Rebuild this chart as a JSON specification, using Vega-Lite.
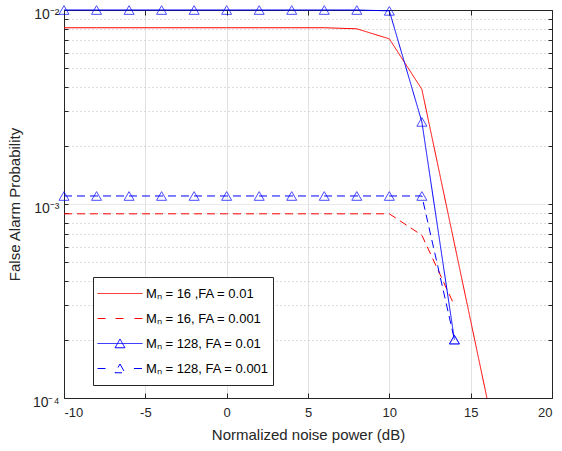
{
  "$schema": "https://vega.github.io/schema/vega-lite/v6.json",
  "width": 488,
  "height": 388,
  "autosize": "none",
  "padding": {"left": 64, "top": 10, "right": 10, "bottom": 53},
  "background": "white",
  "config": {
    "font": "Liberation Sans",
    "view": {"stroke": null},
    "axis": {
      "domainColor": "#262626",
      "tickColor": "#262626",
      "labelColor": "#262626",
      "titleColor": "#262626",
      "labelFont": "Liberation Sans",
      "titleFont": "Liberation Sans",
      "labelFontSize": 13,
      "titleFontSize": 15,
      "titleFontWeight": "normal"
    }
  },
  "data": {
    "values": [
      {"series": "Mₙ = 16 ,FA = 0.01", "x": -10, "y": 0.0081},
      {"series": "Mₙ = 16 ,FA = 0.01", "x": -8, "y": 0.0081},
      {"series": "Mₙ = 16 ,FA = 0.01", "x": -6, "y": 0.0081},
      {"series": "Mₙ = 16 ,FA = 0.01", "x": -4, "y": 0.0081},
      {"series": "Mₙ = 16 ,FA = 0.01", "x": -2, "y": 0.0081},
      {"series": "Mₙ = 16 ,FA = 0.01", "x": 0, "y": 0.0081},
      {"series": "Mₙ = 16 ,FA = 0.01", "x": 2, "y": 0.0081},
      {"series": "Mₙ = 16 ,FA = 0.01", "x": 4, "y": 0.0081},
      {"series": "Mₙ = 16 ,FA = 0.01", "x": 6, "y": 0.0081},
      {"series": "Mₙ = 16 ,FA = 0.01", "x": 8, "y": 0.0080},
      {"series": "Mₙ = 16 ,FA = 0.01", "x": 10, "y": 0.0071},
      {"series": "Mₙ = 16 ,FA = 0.01", "x": 12, "y": 0.0039},
      {"series": "Mₙ = 16 ,FA = 0.01", "x": 14, "y": 0.000625},
      {"series": "Mₙ = 16 ,FA = 0.01", "x": 16, "y": 0.0001},
      {"series": "Mₙ = 16, FA = 0.001", "x": -10, "y": 0.00089},
      {"series": "Mₙ = 16, FA = 0.001", "x": -8, "y": 0.00089},
      {"series": "Mₙ = 16, FA = 0.001", "x": -6, "y": 0.00089},
      {"series": "Mₙ = 16, FA = 0.001", "x": -4, "y": 0.00089},
      {"series": "Mₙ = 16, FA = 0.001", "x": -2, "y": 0.00089},
      {"series": "Mₙ = 16, FA = 0.001", "x": 0, "y": 0.00089},
      {"series": "Mₙ = 16, FA = 0.001", "x": 2, "y": 0.00089},
      {"series": "Mₙ = 16, FA = 0.001", "x": 4, "y": 0.00089},
      {"series": "Mₙ = 16, FA = 0.001", "x": 6, "y": 0.00089},
      {"series": "Mₙ = 16, FA = 0.001", "x": 8, "y": 0.00089},
      {"series": "Mₙ = 16, FA = 0.001", "x": 10, "y": 0.00089},
      {"series": "Mₙ = 16, FA = 0.001", "x": 12, "y": 0.00069},
      {"series": "Mₙ = 16, FA = 0.001", "x": 14, "y": 0.0003},
      {"series": "Mₙ = 128, FA = 0.01", "x": -10, "y": 0.01},
      {"series": "Mₙ = 128, FA = 0.01", "x": -8, "y": 0.01},
      {"series": "Mₙ = 128, FA = 0.01", "x": -6, "y": 0.01},
      {"series": "Mₙ = 128, FA = 0.01", "x": -4, "y": 0.01},
      {"series": "Mₙ = 128, FA = 0.01", "x": -2, "y": 0.01},
      {"series": "Mₙ = 128, FA = 0.01", "x": 0, "y": 0.01},
      {"series": "Mₙ = 128, FA = 0.01", "x": 2, "y": 0.01},
      {"series": "Mₙ = 128, FA = 0.01", "x": 4, "y": 0.01},
      {"series": "Mₙ = 128, FA = 0.01", "x": 6, "y": 0.01},
      {"series": "Mₙ = 128, FA = 0.01", "x": 8, "y": 0.01},
      {"series": "Mₙ = 128, FA = 0.01", "x": 10, "y": 0.0099},
      {"series": "Mₙ = 128, FA = 0.01", "x": 12, "y": 0.00265},
      {"series": "Mₙ = 128, FA = 0.01", "x": 14, "y": 0.0002},
      {"series": "Mₙ = 128, FA = 0.001", "x": -10, "y": 0.0011},
      {"series": "Mₙ = 128, FA = 0.001", "x": -8, "y": 0.0011},
      {"series": "Mₙ = 128, FA = 0.001", "x": -6, "y": 0.0011},
      {"series": "Mₙ = 128, FA = 0.001", "x": -4, "y": 0.0011},
      {"series": "Mₙ = 128, FA = 0.001", "x": -2, "y": 0.0011},
      {"series": "Mₙ = 128, FA = 0.001", "x": 0, "y": 0.0011},
      {"series": "Mₙ = 128, FA = 0.001", "x": 2, "y": 0.0011},
      {"series": "Mₙ = 128, FA = 0.001", "x": 4, "y": 0.0011},
      {"series": "Mₙ = 128, FA = 0.001", "x": 6, "y": 0.0011},
      {"series": "Mₙ = 128, FA = 0.001", "x": 8, "y": 0.0011},
      {"series": "Mₙ = 128, FA = 0.001", "x": 10, "y": 0.0011},
      {"series": "Mₙ = 128, FA = 0.001", "x": 12, "y": 0.0011},
      {"series": "Mₙ = 128, FA = 0.001", "x": 14, "y": 0.0002}
    ]
  },
  "layer": [
    {
      "mark": {"type": "line", "strokeWidth": 1, "clip": false},
      "encoding": {
        "x": {
          "field": "x", "type": "quantitative",
          "scale": {"domain": [-10, 20], "nice": false, "zero": false},
          "axis": {
            "orient": "bottom",
            "values": [-10, -5, 0, 5, 10, 15, 20],
            "labelExpr": "datum.value + ''",
            "grid": true, "gridColor": "#e2e2e2",
            "tickSize": -5, "labelPadding": 13,
            "title": "Normalized noise power (dB)", "titlePadding": 8
          }
        },
        "y": {
          "field": "y", "type": "quantitative",
          "scale": {"type": "log", "domain": [0.0001, 0.01], "nice": false},
          "axis": {
            "orient": "left",
            "values": [0.0001, 0.0002, 0.0003, 0.0004, 0.0005, 0.0006, 0.0007, 0.0008, 0.0009, 0.001, 0.002, 0.003, 0.004, 0.005, 0.006, 0.007, 0.008, 0.009, 0.01],
            "labelExpr": "datum.value == 0.0001 ? '10⁻⁴' : datum.value == 0.001 ? '10⁻³' : datum.value == 0.01 ? '10⁻²' : ''",
            "labelFontSize": 14,
            "grid": true,
            "gridColor": {"condition": {"test": "datum.value == 0.0001 || datum.value == 0.001 || datum.value == 0.01", "value": "#e2e2e2"}, "value": "#b8b8b8"},
            "gridDash": {"condition": {"test": "datum.value == 0.0001 || datum.value == 0.001 || datum.value == 0.01", "value": [1, 0]}, "value": [1, 3]},
            "tickSize": -4, "labelPadding": 9, "labelOffset": 4,
            "title": "False Alarm Probability", "titlePadding": 10
          }
        },
        "color": {
          "field": "series", "type": "nominal",
          "scale": {
            "domain": ["Mₙ = 16 ,FA = 0.01", "Mₙ = 16, FA = 0.001", "Mₙ = 128, FA = 0.01", "Mₙ = 128, FA = 0.001"],
            "range": ["#ff0000", "#ff0000", "#0000ff", "#0000ff"]
          },
          "legend": {
            "title": null,
            "orient": "none",
            "legendX": 29,
            "legendY": 267,
            "padding": 4,
            "strokeColor": "#262626",
            "fillColor": "white",
            "cornerRadius": 0,
            "clipHeight": 25,
            "rowPadding": 0,
            "symbolSize": 2025,
            "symbolStrokeWidth": 1,
            "labelFontSize": 13,
            "labelColor": "#000000",
            "labelOffset": 3,
            "labelLimit": 300,
            "encode": {
              "symbols": {
                "update": {
                  "shape": {"signal": "datum.index == 0 ? 'M-1,0H1' : datum.index == 1 ? 'M-1,0H-0.64M-0.2,0H0.2M0.64,0H1' : datum.index == 2 ? 'M-1,0H1M0,-0.2L0.22,0.19L-0.22,0.19Z' : 'M-1,0H-0.62M0.62,0H1M0,-0.2L0.22,0.19L-0.22,0.19Z'"},
                  "fill": {"value": "transparent"},
                  "strokeDash": {"value": [1, 0]}
                }
              }
            }
          }
        },
        "strokeDash": {
          "field": "series", "type": "nominal",
          "scale": {
            "domain": ["Mₙ = 16 ,FA = 0.01", "Mₙ = 16, FA = 0.001", "Mₙ = 128, FA = 0.01", "Mₙ = 128, FA = 0.001"],
            "range": [[1, 0], [8, 5], [1, 0], [8, 5]]
          },
          "legend": null
        }
      }
    },
    {
      "transform": [{"filter": "indexof(datum.series, '128') >= 0"}],
      "mark": {"type": "point", "shape": "triangle-up", "filled": false, "size": 100, "strokeWidth": 1, "color": "#0000ff", "clip": false},
      "encoding": {
        "x": {
          "field": "x", "type": "quantitative",
          "scale": {"domain": [-10, 20], "nice": false, "zero": false},
          "axis": {
            "orient": "top",
            "values": [-10, -5, 0, 5, 10, 15, 20],
            "grid": false, "labels": false, "tickSize": -5, "title": null
          }
        },
        "y": {
          "field": "y", "type": "quantitative",
          "scale": {"type": "log", "domain": [0.0001, 0.01], "nice": false},
          "axis": {
            "orient": "right",
            "values": [0.0001, 0.0002, 0.0003, 0.0004, 0.0005, 0.0006, 0.0007, 0.0008, 0.0009, 0.001, 0.002, 0.003, 0.004, 0.005, 0.006, 0.007, 0.008, 0.009, 0.01],
            "grid": false, "labels": false, "tickSize": -4, "title": null
          }
        }
      }
    }
  ],
  "resolve": {"axis": {"x": "independent", "y": "independent"}}
}
